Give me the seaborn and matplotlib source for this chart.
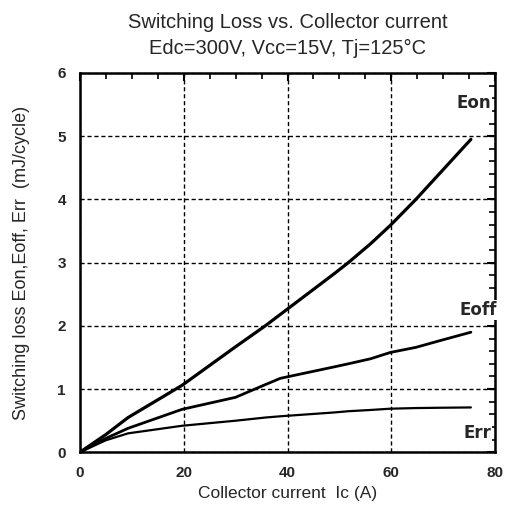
import numpy as np
import pandas as pd
import matplotlib
matplotlib.use('Agg')
import matplotlib.pyplot as plt
import seaborn as sns
from matplotlib.ticker import MultipleLocator

# values
ic = [0, 5, 9.3, 19.7, 30, 35.7, 38.6, 48.9, 51.7, 56, 59.8, 64.7, 69.5, 75.3]
eon = [0, 0.28, 0.55, 1.06, 1.67, 2.0, 2.18, 2.82, 3.0, 3.30, 3.59, 4.0, 4.43, 4.95]
eoff = [0, 0.22, 0.38, 0.68, 0.87, 1.07, 1.17, 1.35, 1.40, 1.48, 1.58, 1.66, 1.77, 1.90]
err = [0, 0.19, 0.30, 0.42, 0.50, 0.55, 0.57, 0.63, 0.65, 0.67, 0.69, 0.70, 0.705, 0.71]
curve_names = ['Eon', 'Eoff', 'Err']
x_ticks = [0, 20, 40, 60, 80]
y_ticks = [0, 1, 2, 3, 4, 5, 6]

df = pd.DataFrame({'Ic': ic, 'Eon': eon, 'Eoff': eoff, 'Err': err})
long_df = df.melt(id_vars='Ic', var_name='curve', value_name='E')

sns.set_style('white')
plt.rcParams['font.family'] = ['Liberation Sans', 'DejaVu Sans']

fig, ax = plt.subplots(figsize=(5.08, 5.14), dpi=100)
fig.subplots_adjust(left=0.157, right=0.975, top=0.858, bottom=0.12)

sns.lineplot(data=long_df, x='Ic', y='E', hue='curve', hue_order=curve_names,
             palette=['black'] * 3, linewidth=2, legend=False, ax=ax)
for line, lw in zip(ax.lines, [2.3, 2.0, 1.6]):
    line.set_linewidth(lw)
    line.set_solid_joinstyle('round')

ax.set_xlim(0, 80)
ax.set_ylim(0, 6)
ax.set_xticks(x_ticks)
ax.set_yticks(y_ticks)
ax.xaxis.set_minor_locator(MultipleLocator(5))
ax.yaxis.set_minor_locator(MultipleLocator(0.2))
ax.tick_params(which='both', direction='in', top=True, right=True, color='black')
ax.tick_params(which='major', length=6, width=1.5, pad=10, labelsize=11)
ax.tick_params(which='minor', length=4, width=1.2)
for lab in ax.get_xticklabels() + ax.get_yticklabels():
    lab.set_fontweight('bold')
ax.grid(True, which='major', color='black', linestyle=(0, (3, 2)), linewidth=1)
for s in ax.spines.values():
    s.set_color('black')
    s.set_linewidth(1.8)

cond = ['DejaVu Sans Condensed', 'DejaVu Sans']
ax.text(79.2, 5.52, 'Eon', ha='right', va='center', fontsize=12, fontweight='bold',
        family=cond, bbox=dict(facecolor='white', edgecolor='none', pad=0.5))
ax.text(80.3, 2.25, 'Eoff', ha='right', va='center', fontsize=12, fontweight='bold',
        family=cond, zorder=5, clip_on=False,
        bbox=dict(facecolor='white', edgecolor='none', pad=0.5))
ax.text(79.2, 0.31, 'Err', ha='right', va='center', fontsize=12, fontweight='bold',
        family=cond, bbox=dict(facecolor='white', edgecolor='none', pad=0.5))

ax.set_xlabel('Collector current  Ic (A)', fontsize=12.5, labelpad=4)
ax.set_ylabel('Switching loss Eon,Eoff, Err  (mJ/cycle)', fontsize=13, labelpad=20)
ax.set_title('Switching Loss vs. Collector current\nEdc=300V, Vcc=15V, Tj=125°C',
             fontsize=14.5, linespacing=1.45, pad=14)

fig.savefig('out.png', dpi=100)
